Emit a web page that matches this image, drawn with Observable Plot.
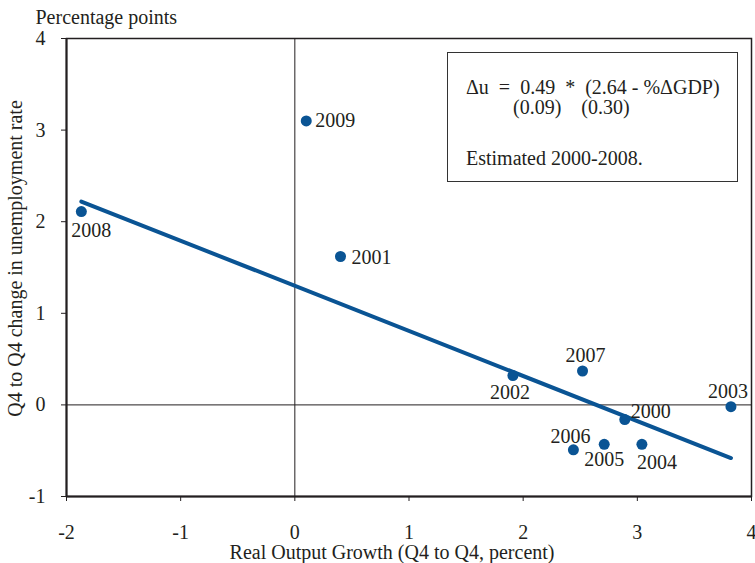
<!DOCTYPE html>
<html>
<head>
<meta charset="utf-8">
<script src="https://cdn.jsdelivr.net/npm/d3@7"></script>
<script src="https://cdn.jsdelivr.net/npm/@observablehq/plot@0.6"></script>
<style>
  html, body { margin: 0; padding: 0; background: #fff; }
  #wrap { position: relative; width: 755px; height: 563px; font-family: "Liberation Serif", "Times New Roman", serif; color: #231f20; }
  #box { position: absolute; left: 447px; top: 52px; width: 291px; height: 130px; border: 1.3px solid #333; box-sizing: border-box; font-size: 20px; line-height: 20px; background: #fff; }
  #box div { position: absolute; white-space: pre; }
</style>
</head>
<body>
<div id="wrap"></div>
<script>
// Data
const years  = ["2000","2001","2002","2003","2004","2005","2006","2007","2008","2009"];
const growth = [2.89, 0.40, 1.91, 3.82, 3.04, 2.71, 2.44, 2.52, -1.87, 0.10];
const dUnemp = [-0.16, 1.62, 0.32, -0.02, -0.43, -0.43, -0.49, 0.37, 2.11, 3.10];

// Fitted line endpoints: Δu = 0.49 * (2.64 - %ΔGDP)
const fitX = [-1.87, 3.82];
const fitY = [2.22, -0.58];

const xTicks = [-2, -1, 0, 1, 2, 3, 4];
const yTicks = [-1, 0, 1, 2, 3, 4];

const title = "Percentage points";
const xLabel = "Real Output Growth (Q4 to Q4, percent)";
const yLabel = "Q4 to Q4 change in unemployment rate";
const eqLines = ["\u0394u  =  0.49  *  (2.64 - %\u0394GDP)", "(0.09)    (0.30)", "Estimated 2000-2008."];

// Label placement (layout only)
const labelPlace = {
  "2000": {dx: 6, dy: -8, anchor: "start"},
  "2001": {dx: 11, dy: 1, anchor: "start"},
  "2002": {dx: -3, dy: 17, anchor: "middle"},
  "2003": {dx: -3, dy: -15, anchor: "middle"},
  "2004": {dx: 15, dy: 18, anchor: "middle"},
  "2005": {dx: 0, dy: 15, anchor: "middle"},
  "2006": {dx: -3, dy: -13, anchor: "middle"},
  "2007": {dx: 3, dy: -15, anchor: "middle"},
  "2008": {dx: 10, dy: 19, anchor: "middle"},
  "2009": {dx: 9, dy: 0, anchor: "start"}
};

const pts = years.map((y, i) => ({year: y, x: growth[i], y: dUnemp[i]}));
const fit = fitX.map((x, i) => ({x, y: fitY[i]}));

const blue = "#0a5494";
const ink = "#231f20";
const font = "Liberation Serif, Times New Roman, serif";

const labelMarks = pts.map(d =>
  Plot.text([d], {x: "x", y: "y", text: "year", dx: labelPlace[d.year].dx, dy: labelPlace[d.year].dy,
    textAnchor: labelPlace[d.year].anchor, lineAnchor: "middle", fill: ink, fontSize: 20})
);

const chart = Plot.plot({
  width: 755,
  height: 563,
  marginLeft: 66,
  marginRight: 4,
  marginTop: 38,
  marginBottom: 67,
  style: {fontFamily: font, fontSize: "20px", color: ink, background: "#fff"},
  x: {domain: [-2, 4]},
  y: {domain: [-1, 4]},
  marks: [
    Plot.ruleX([0], {stroke: ink, strokeWidth: 1}),
    Plot.ruleY([0], {stroke: ink, strokeWidth: 1}),
    Plot.frame({stroke: ink, strokeWidth: 1.5}),
    Plot.ruleX([-2], {stroke: ink, strokeWidth: 2}),
    Plot.ruleY([-1], {stroke: ink, strokeWidth: 2}),
    Plot.axisX({ticks: xTicks, tickSize: 5, tickPadding: 23, label: null, tickFormat: d => String(d), fontSize: 20, stroke: ink, fill: ink}),
    Plot.axisY({ticks: yTicks, tickSize: 5, tickPadding: 16, label: null, tickFormat: d => String(d), fontSize: 20, stroke: ink, fill: ink}),
    Plot.line(fit, {x: "x", y: "y", stroke: blue, strokeWidth: 4}),
    Plot.dot(pts, {x: "x", y: "y", r: 5.5, fill: blue, stroke: "none"}),
    ...labelMarks,
    Plot.text([title], {frameAnchor: "top-left", dx: -31, dy: -21, textAnchor: "start", lineAnchor: "middle", fill: ink, fontSize: 20}),
    Plot.text([xLabel], {frameAnchor: "bottom", dx: -17, dy: 56, textAnchor: "middle", lineAnchor: "middle", fill: ink, fontSize: 20}),
    Plot.text([yLabel], {frameAnchor: "left", dx: -51, dy: -9, rotate: -90, textAnchor: "middle", lineAnchor: "middle", fill: ink, fontSize: 20})
  ]
});

const wrap = document.getElementById("wrap");
wrap.appendChild(chart);

const box = document.createElement("div");
box.id = "box";
// [left, vertical centre] inside the box, in px
const pos = [[18, 34], [65, 54], [18, 105]];
eqLines.forEach((t, i) => {
  const d = document.createElement("div");
  d.textContent = t;
  d.style.left = pos[i][0] + "px";
  d.style.top = (pos[i][1] - 10) + "px";
  box.appendChild(d);
});
wrap.appendChild(box);
</script>
</body>
</html>
